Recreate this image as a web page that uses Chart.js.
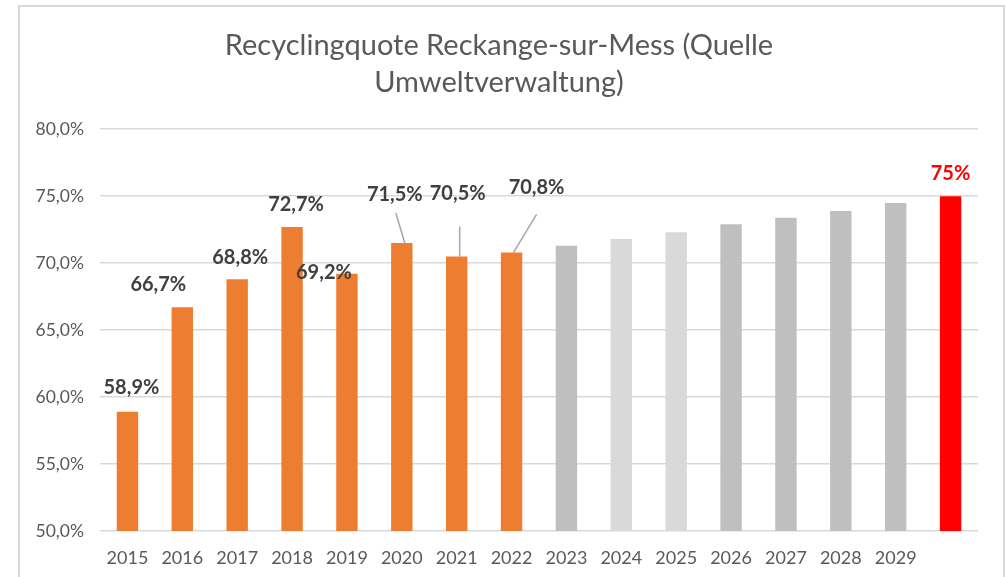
<!DOCTYPE html>
<html>
<head>
<meta charset="utf-8">
<script src="https://cdn.jsdelivr.net/npm/chart.js@4/dist/chart.umd.min.js"></script>
<style>
  html, body { margin: 0; padding: 0; background: #fff; overflow: hidden; }
  #frame {
    position: absolute; left: 18px; top: 5px;
    width: 983px; height: 572px;
    border: 2px solid #d9d9d9; border-bottom: none;
  }
  #chart { display: block; }
</style>
</head>
<body>
<div id="frame"><canvas id="chart" width="983" height="572"></canvas></div>
<script>
'use strict';

// data
const years = ['2015', '2016', '2017', '2018', '2019', '2020', '2021', '2022',
  '2023', '2024', '2025', '2026', '2027', '2028', '2029', ''];
const actual = [58.9, 66.7, 68.8, 72.7, 69.2, 71.5, 70.5, 70.8];
const projected = [71.3, 71.8, 72.3, 72.9, 73.4, 73.9, 74.5];
const target = 75;
const yMin = 50;
const yMax = 80;
const yStep = 5;

let values = actual.concat(projected, [target]);

// colours per bar
let barColors = [];
for (let i = 0; i < actual.length; i++) {
  barColors.push('#ed7d31');
}
let greyShades = ['#bfbfbf', '#d9d9d9', '#d9d9d9', '#bfbfbf', '#bfbfbf', '#bfbfbf', '#bfbfbf'];
barColors = barColors.concat(greyShades, ['#ff0000']);

function pct(v, dec) {
  return v.toFixed(dec).replace('.', ',') + '%';
}

// label offsets (text centre relative to bar top) and leader lines
const labelOffsets = {
  0: [4, -24], 1: [-24, -23], 2: [3, -22], 3: [4, -22], 4: [-23, -1],
  5: [-7, -49], 6: [1, -63], 7: [25, -65], 15: [0, -23]
};
const leaders = {
  5: [[-6, -30], [3, 0]],
  6: [[3, -30], [3, 0]],
  7: [[25, -38], [2, 0]]
};

const labelPlugin = {
  id: 'barLabels',
  afterDatasetsDraw(chart) {
    let ctx = chart.ctx;
    let meta = chart.getDatasetMeta(0);
    ctx.save();
    // leader lines
    ctx.strokeStyle = '#a6a6a6';
    ctx.lineWidth = 1.5;
    for (let k in leaders) {
      let bar = meta.data[k];
      let l = leaders[k];
      ctx.beginPath();
      ctx.moveTo(bar.x + l[0][0], bar.y + l[0][1]);
      ctx.lineTo(bar.x + l[1][0], bar.y + l[1][1]);
      ctx.stroke();
    }
    ctx.font = 'bold 20px Lato, sans-serif';
    ctx.textAlign = 'center';
    ctx.textBaseline = 'middle';
    for (let k in labelOffsets) {
      let i = Number(k);
      let bar = meta.data[i];
      let off = labelOffsets[k];
      let text;
      if (i === values.length - 1) {
        text = pct(values[i], 0);
        ctx.fillStyle = '#ff0000';
      } else {
        text = pct(values[i], 1);
        ctx.fillStyle = '#404040';
      }
      ctx.fillText(text, bar.x + off[0], bar.y + off[1]);
    }
    ctx.restore();
  }
};

let config = {
  type: 'bar',
  data: {
    labels: years,
    datasets: [{
      data: values,
      backgroundColor: barColors,
      borderWidth: 0,
      barPercentage: 0.39,
      categoryPercentage: 1
    }]
  },
  options: {
    responsive: false,
    animation: false,
    layout: { padding: { left: 0, right: 25, top: 0, bottom: 0 } },
    plugins: {
      legend: { display: false },
      tooltip: { enabled: false },
      title: {
        display: true,
        text: ['Recyclingquote Reckange-sur-Mess (Quelle', 'Umweltverwaltung)'],
        color: '#595959',
        font: { family: 'Lato, sans-serif', size: 29, weight: 'normal', lineHeight: 1.28 },
        padding: { top: 20, bottom: 28 }
      }
    },
    scales: {
      x: {
        grid: { display: false, drawTicks: false },
        border: { display: false },
        ticks: {
          color: '#595959',
          font: { family: 'Lato, sans-serif', size: 18 },
          padding: 16,
          maxRotation: 0,
          autoSkip: false
        },
        afterFit: function (s) { s.height = 48; }
      },
      y: {
        min: yMin,
        max: yMax,
        grid: { color: '#d9d9d9', lineWidth: 1.5, drawTicks: false },
        border: { display: false },
        ticks: {
          stepSize: yStep,
          color: '#595959',
          font: { family: 'Lato, sans-serif', size: 17.5 },
          padding: 16,
          callback: function (v) { return pct(v, 1); }
        },
        afterFit: function (s) { s.width = 80; }
      }
    }
  },
  plugins: [labelPlugin]
};

let myChart = new Chart(document.getElementById('chart'), config);
</script>
</body>
</html>
